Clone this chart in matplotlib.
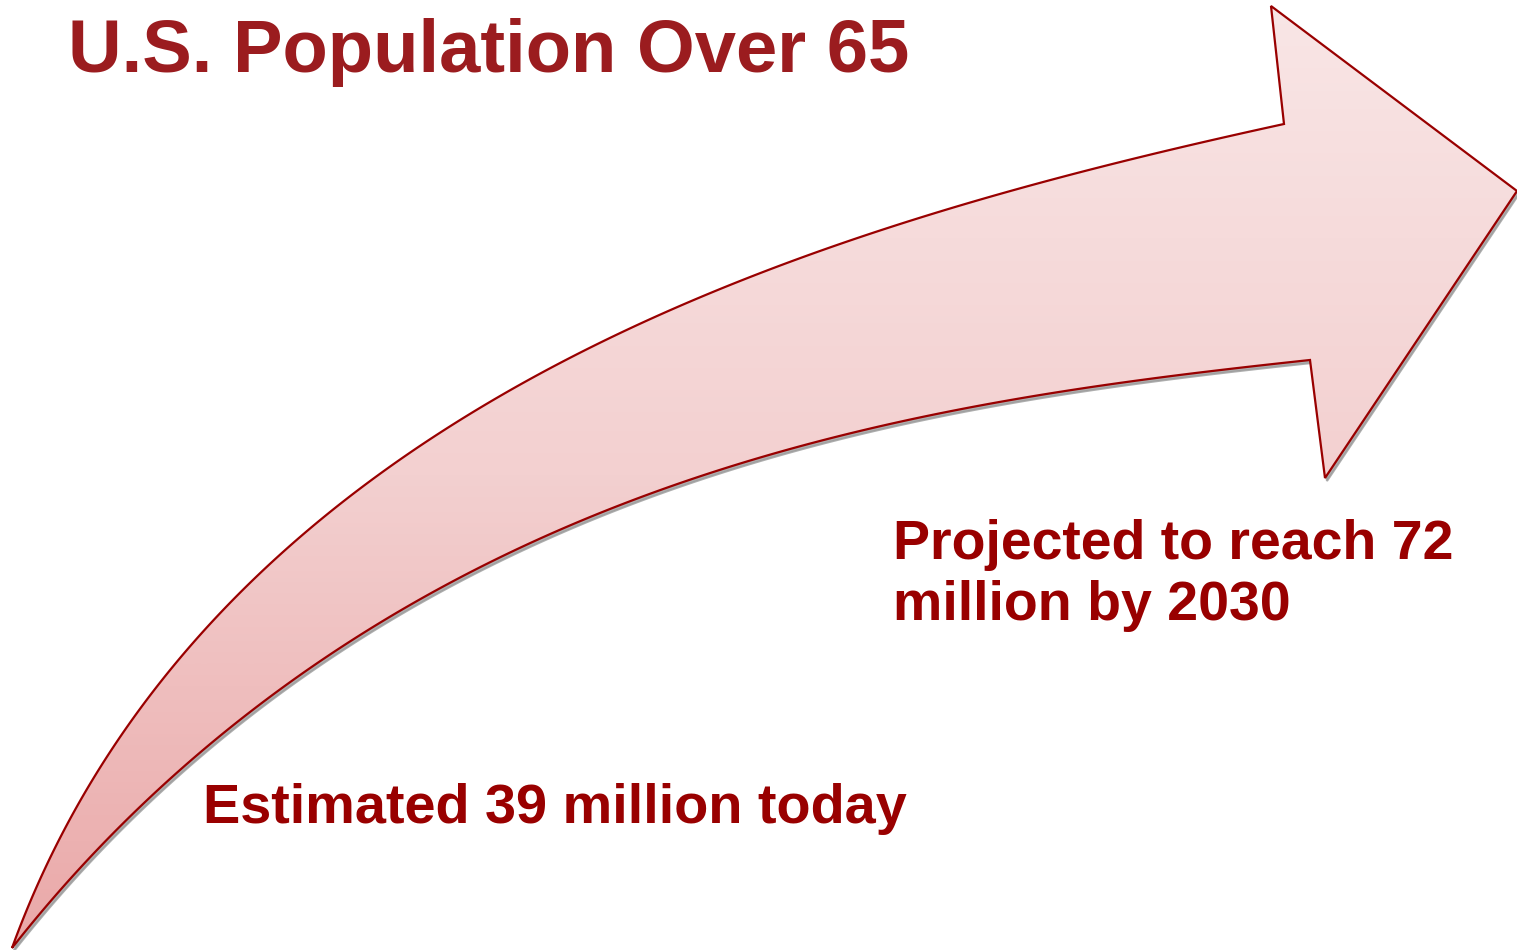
import numpy as np
import matplotlib
matplotlib.use("Agg")
import matplotlib.pyplot as plt
from matplotlib.path import Path
from matplotlib.patches import PathPatch
from matplotlib.colors import LinearSegmentedColormap
from math import comb

# ---- text content ----
title = "U.S. Population Over 65"
label_today = "Estimated 39 million today"
label_future_1 = "Projected to reach 72"
label_future_2 = "million by 2030"

# ---- arrow outline (image pixel coordinates, y down) ----
upper_x = [12, 32, 85, 179, 268, 357, 446, 536, 625, 650, 733, 816, 899, 982, 1065, 1147, 1230, 1284]
upper_y = [948, 900, 800, 660, 558, 489, 430, 380, 333, 321, 282, 250, 223, 198, 177, 157, 137, 124]
head_x = [1284, 1271, 1517, 1325, 1310]
head_y = [124, 6, 191, 478, 360]
lower_x = [1310, 1230, 1147, 1065, 982, 899, 816, 733, 650, 625, 536, 446, 357, 268, 179, 143, 99, 62, 12]
lower_y = [360, 367, 378, 392, 407, 423, 442, 465, 490, 500, 543, 594, 637, 691, 767, 800, 854, 900, 948]


def smooth_curve(px, py, deg=4, n=300, iters=8):
    """Least-squares Bezier fit with fixed endpoints (smooths hand-read outline)."""
    P = np.column_stack([px, py]).astype(float)
    d = np.r_[0, np.cumsum(np.hypot(*np.diff(P, axis=0).T))]
    t = d / d[-1]
    for _ in range(iters):
        B = np.column_stack([comb(deg, k) * t**k * (1 - t)**(deg - k) for k in range(deg + 1)])
        rhs = P - np.outer(B[:, 0], P[0]) - np.outer(B[:, -1], P[-1])
        inner, *_ = np.linalg.lstsq(B[:, 1:-1], rhs, rcond=None)
        C = np.vstack([P[0], inner, P[-1]])
        # refine parameters by nearest point on dense curve
        tt = np.linspace(0, 1, 2000)
        BB = np.column_stack([comb(deg, k) * tt**k * (1 - tt)**(deg - k) for k in range(deg + 1)])
        curve = BB @ C
        dist = ((P[:, None, :] - curve[None, :, :])**2).sum(-1)
        t = tt[dist.argmin(axis=1)]
        t[0], t[-1] = 0.0, 1.0
    tt = np.linspace(0, 1, n)
    BB = np.column_stack([comb(deg, k) * tt**k * (1 - tt)**(deg - k) for k in range(deg + 1)])
    return BB @ C


up = smooth_curve(upper_x, upper_y)
lo = smooth_curve(lower_x, lower_y)
head = np.column_stack([head_x, head_y]).astype(float)

W, H = 1517, 950
fig = plt.figure(figsize=(W / 100, H / 100), dpi=100)
ax = fig.add_axes([0, 0, 1, 1])
ax.set_xlim(0, W)
ax.set_ylim(H, 0)
ax.axis("off")

pts = np.vstack([up, head[1:], lo[1:]])
verts = [tuple(p) for p in pts] + [tuple(pts[0])]
codes = [Path.MOVETO] + [Path.LINETO] * (len(pts) - 1) + [Path.CLOSEPOLY]
path = Path(verts, codes)

# shadow
sh_verts = [(x + 2, y + 3) for x, y in verts]
shadow = PathPatch(Path(sh_verts, codes), facecolor="#9a9a9a", edgecolor="#9a9a9a",
                   lw=1.5, alpha=0.8, zorder=1)
ax.add_patch(shadow)

base = PathPatch(path, facecolor="white", edgecolor="none", zorder=2)
ax.add_patch(base)

cmap = LinearSegmentedColormap.from_list("pinkgrad", ["#f9e6e6", "#f3d0d0", "#eaa8a8"])
grad = np.linspace(0, 1, 256).reshape(-1, 1)
im = ax.imshow(grad, cmap=cmap, extent=[0, W, 950, 0], aspect="auto", zorder=3,
               interpolation="bilinear")
clip = PathPatch(path, facecolor="none", edgecolor="none", transform=ax.transData)
ax.add_patch(clip)
im.set_clip_path(clip)

outline = PathPatch(path, facecolor="none", edgecolor="#990000", lw=1.6,
                    joinstyle="miter", zorder=4)
ax.add_patch(outline)
ax.set_xlim(0, W)
ax.set_ylim(H, 0)

font = "Liberation Sans"
ax.text(68, 72, title, fontsize=53.5, fontweight="bold", color="#9B1C1F",
        family=font, va="baseline", ha="left", zorder=5)
ax.text(893, 559, label_future_1, fontsize=40, fontweight="bold", color="#990000",
        family=font, va="baseline", ha="left", zorder=5)
ax.text(893, 620, label_future_2, fontsize=40, fontweight="bold", color="#990000",
        family=font, va="baseline", ha="left", zorder=5)
ax.text(203, 823, label_today, fontsize=40.2, fontweight="bold", color="#990000",
        family=font, va="baseline", ha="left", zorder=5)

fig.savefig("out.png", dpi=100)
